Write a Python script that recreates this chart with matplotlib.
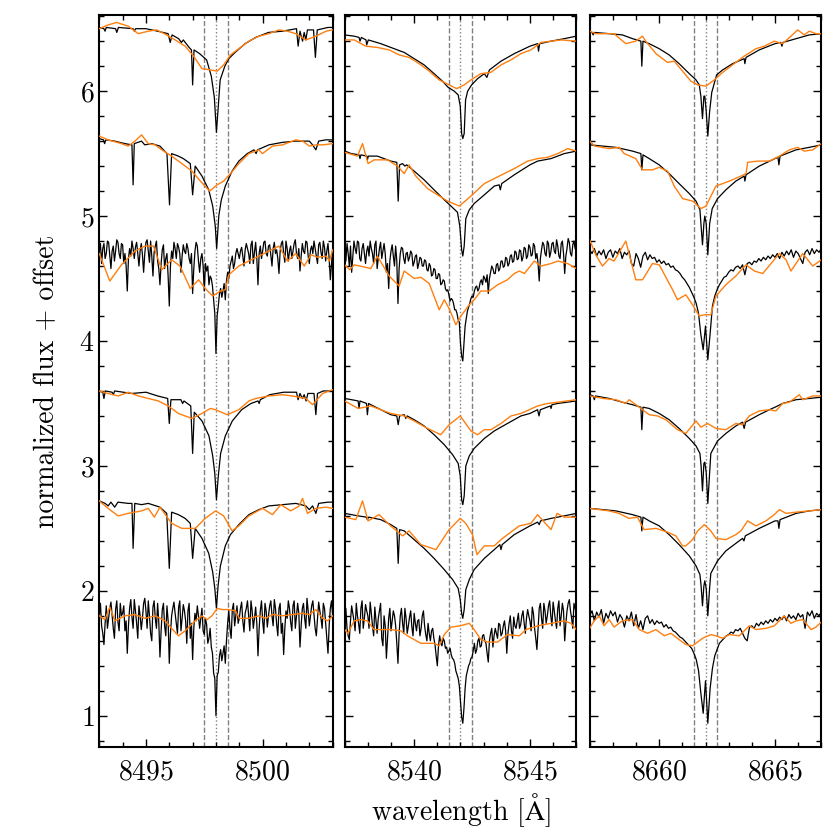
import numpy as np
import matplotlib
matplotlib.use('Agg')
import matplotlib.pyplot as plt
from matplotlib.ticker import MultipleLocator

plt.rcParams['font.family'] = 'serif'
plt.rcParams['font.serif'] = ['cmr10']
plt.rcParams['mathtext.fontset'] = 'cm'
plt.rcParams['axes.formatter.use_mathtext'] = True
plt.rcParams['font.size'] = 20

# line centres of the three Ca II triplet windows (window = centre +- 5 A)
centres = [8498, 8542, 8662]

# ---------------- Ca II 8498 -----------------
l5_model = [(8493.00, 6.51), (8493.20, 6.50), (8493.25, 6.48), (8493.30, 6.51), (8493.70, 6.50), (8493.75, 6.47),
            (8493.82, 6.51), (8494.45, 6.50), (8494.50, 6.48), (8494.56, 6.50), (8495.00, 6.50), (8495.50, 6.48),
            (8495.95, 6.46), (8496.04, 6.39), (8496.12, 6.45), (8496.40, 6.42), (8496.52, 6.39), (8496.60, 6.41),
            (8496.85, 6.35), (8496.95, 6.33), (8497.00, 6.05), (8497.06, 6.33), (8497.30, 6.30), (8497.60, 6.25),
            (8497.80, 6.12), (8497.93, 5.95), (8498.02, 5.67), (8498.10, 5.88), (8498.18, 6.09), (8498.38, 6.20),
            (8498.55, 6.26), (8498.82, 6.31), (8499.25, 6.38), (8499.70, 6.43), (8500.25, 6.47), (8500.85, 6.48),
            (8501.45, 6.50), (8501.52, 6.36), (8501.60, 6.48), (8501.71, 6.40), (8501.78, 6.47), (8501.85, 6.41),
            (8501.92, 6.49), (8502.18, 6.49), (8502.26, 6.27), (8502.34, 6.49), (8502.80, 6.51), (8503.00, 6.51)]
l5_obs = [(8493.00, 6.50), (8493.38, 6.53), (8493.74, 6.55), (8494.24, 6.52), (8494.67, 6.46), (8495.10, 6.48),
          (8495.46, 6.49), (8495.89, 6.45), (8496.25, 6.41), (8496.68, 6.36), (8497.04, 6.28), (8497.40, 6.18),
          (8497.76, 6.17), (8498.05, 6.16), (8498.33, 6.21), (8498.62, 6.29), (8498.98, 6.34), (8499.41, 6.40),
          (8499.84, 6.44), (8500.27, 6.46), (8500.70, 6.49), (8501.06, 6.48), (8501.42, 6.46), (8501.85, 6.41),
          (8502.28, 6.44), (8502.72, 6.48), (8503.00, 6.49)]
l4_model = [(8493.00, 5.62), (8493.18, 5.61), (8493.23, 5.58), (8493.28, 5.61), (8493.66, 5.60), (8494.10, 5.58),
            (8494.40, 5.57), (8494.45, 5.25), (8494.50, 5.58), (8494.81, 5.60), (8494.95, 5.57), (8495.25, 5.58),
            (8495.60, 5.56), (8495.90, 5.50), (8496.01, 5.09), (8496.10, 5.50), (8496.39, 5.48), (8496.60, 5.46),
            (8496.90, 5.42), (8497.00, 5.17), (8497.11, 5.40), (8497.40, 5.32), (8497.69, 5.21), (8497.86, 5.08),
            (8497.97, 4.92), (8498.03, 4.74), (8498.12, 5.00), (8498.23, 5.13), (8498.40, 5.24), (8498.69, 5.36),
            (8498.98, 5.44), (8499.34, 5.50), (8499.63, 5.53), (8499.72, 5.50), (8499.78, 5.53), (8500.27, 5.57),
            (8500.85, 5.59), (8501.42, 5.60), (8502.00, 5.60), (8502.14, 5.57), (8502.28, 5.53), (8502.40, 5.60),
            (8502.70, 5.61), (8503.00, 5.61)]
l4_obs = [(8493.00, 5.64), (8493.38, 5.61), (8493.95, 5.58), (8494.24, 5.56), (8494.53, 5.60), (8494.81, 5.65),
          (8495.10, 5.58), (8495.39, 5.57), (8495.68, 5.53), (8496.10, 5.48), (8496.54, 5.42), (8496.97, 5.36),
          (8497.33, 5.28), (8497.73, 5.20), (8498.05, 5.25), (8498.33, 5.28), (8498.62, 5.34), (8498.98, 5.42),
          (8499.41, 5.50), (8499.84, 5.53), (8499.99, 5.50), (8500.42, 5.56), (8500.85, 5.57), (8501.42, 5.61),
          (8501.71, 5.60), (8502.00, 5.56), (8502.28, 5.57), (8502.57, 5.57), (8503.00, 5.58)]
# noisy spectra: flux only, sampled evenly across the 10 A window
l3_model = [4.72, 4.78, 4.62, 4.74, 4.78, 4.66, 4.70, 4.80, 4.79, 4.68,
            4.58, 4.72, 4.76, 4.64, 4.72, 4.81, 4.79, 4.70, 4.66, 4.78,
            4.77, 4.62, 4.70, 4.60, 4.40, 4.66, 4.74, 4.68, 4.80, 4.74,
            4.66, 4.75, 4.79, 4.70, 4.60, 4.72, 4.78, 4.69, 4.55, 4.70,
            4.79, 4.81, 4.72, 4.63, 4.80, 4.68, 4.52, 4.71, 4.76, 4.80,
            4.64, 4.58, 4.45, 4.62, 4.73, 4.77, 4.58, 4.66, 4.70, 4.52,
            4.28, 4.60, 4.72, 4.66, 4.79, 4.74, 4.66, 4.78, 4.75, 4.70,
            4.55, 4.68, 4.77, 4.72, 4.70, 4.78, 4.74, 4.66, 4.62, 4.70,
            4.38, 4.58, 4.72, 4.79, 4.76, 4.64, 4.55, 4.66, 4.70, 4.60,
            4.40, 4.62, 4.56, 4.60, 4.45, 4.52, 4.50, 4.44, 4.33, 4.22,
            3.90, 4.20, 4.28, 4.38, 4.42, 4.35, 4.40, 4.46, 4.33, 4.48,
            4.55, 4.50, 4.60, 4.64, 4.68, 4.58, 4.62, 4.70, 4.74, 4.70,
            4.66, 4.72, 4.75, 4.68, 4.60, 4.73, 4.78, 4.74, 4.70, 4.62,
            4.77, 4.80, 4.62, 4.71, 4.79, 4.66, 4.45, 4.70, 4.76, 4.66,
            4.72, 4.79, 4.80, 4.70, 4.68, 4.76, 4.77, 4.69, 4.60, 4.74,
            4.79, 4.70, 4.73, 4.66, 4.54, 4.72, 4.78, 4.80, 4.70, 4.63,
            4.80, 4.74, 4.64, 4.72, 4.76, 4.66, 4.72, 4.78, 4.81, 4.70,
            4.66, 4.74, 4.56, 4.68, 4.78, 4.72, 4.70, 4.80, 4.79, 4.68,
            4.62, 4.73, 4.76, 4.70, 4.80, 4.74, 4.68, 4.62, 4.77, 4.79,
            4.71, 4.66, 4.80, 4.75, 4.64, 4.72, 4.78, 4.66, 4.49, 4.62,
            4.74]
l3_obs = [(8493.00, 4.70), (8493.45, 4.48), (8493.95, 4.61), (8494.53, 4.72), (8494.96, 4.76), (8495.32, 4.76),
          (8495.68, 4.57), (8496.10, 4.65), (8496.46, 4.60), (8496.90, 4.42), (8497.26, 4.49), (8497.54, 4.42),
          (8497.86, 4.36), (8498.19, 4.40), (8498.40, 4.41), (8498.55, 4.53), (8498.98, 4.60), (8499.41, 4.64),
          (8499.84, 4.68), (8500.27, 4.72), (8500.70, 4.76), (8501.06, 4.64), (8501.42, 4.70), (8501.78, 4.60),
          (8502.07, 4.69), (8502.36, 4.67), (8502.72, 4.68), (8502.86, 4.64), (8503.00, 4.73)]
l2_model = [(8493.00, 3.60), (8493.15, 3.59), (8493.20, 3.54), (8493.26, 3.60), (8493.55, 3.59), (8493.60, 3.57),
            (8493.66, 3.60), (8494.40, 3.58), (8495.00, 3.59), (8495.50, 3.56), (8495.93, 3.54), (8496.00, 3.34),
            (8496.07, 3.53), (8496.50, 3.53), (8496.57, 3.50), (8496.63, 3.52), (8496.92, 3.48), (8497.00, 3.10),
            (8497.07, 3.43), (8497.40, 3.36), (8497.70, 3.24), (8497.86, 3.08), (8497.95, 2.94), (8498.02, 2.73),
            (8498.10, 2.92), (8498.20, 3.10), (8498.40, 3.24), (8498.70, 3.36), (8499.10, 3.45), (8499.50, 3.50),
            (8499.80, 3.52), (8499.85, 3.50), (8499.90, 3.53), (8500.30, 3.57), (8500.90, 3.59), (8501.45, 3.59),
            (8501.52, 3.53), (8501.60, 3.58), (8501.70, 3.54), (8501.78, 3.57), (8501.86, 3.52), (8501.94, 3.58),
            (8502.20, 3.58), (8502.28, 3.41), (8502.35, 3.58), (8502.60, 3.60), (8503.00, 3.60)]
l2_obs = [(8493.00, 3.60), (8493.38, 3.58), (8493.81, 3.56), (8494.24, 3.59), (8494.67, 3.56), (8495.10, 3.54),
          (8495.53, 3.52), (8495.96, 3.48), (8496.39, 3.42), (8496.97, 3.38), (8497.40, 3.42), (8497.76, 3.46),
          (8497.98, 3.45), (8498.48, 3.41), (8498.98, 3.45), (8499.41, 3.52), (8499.70, 3.54), (8500.27, 3.56),
          (8500.85, 3.57), (8501.27, 3.56), (8501.85, 3.54), (8502.14, 3.49), (8502.57, 3.58), (8503.00, 3.61)]
l1_model = [(8493.00, 2.72), (8493.25, 2.70), (8493.38, 2.68), (8493.50, 2.71), (8493.66, 2.67), (8493.80, 2.71),
            (8494.24, 2.70), (8494.40, 2.70), (8494.45, 2.34), (8494.52, 2.70), (8494.81, 2.69), (8495.10, 2.70),
            (8495.60, 2.67), (8495.89, 2.62), (8496.00, 2.18), (8496.10, 2.63), (8496.39, 2.61), (8496.68, 2.58),
            (8496.90, 2.54), (8497.00, 2.26), (8497.11, 2.50), (8497.40, 2.42), (8497.69, 2.30), (8497.86, 2.15),
            (8497.95, 2.02), (8498.02, 1.86), (8498.09, 2.04), (8498.19, 2.20), (8498.40, 2.36), (8498.62, 2.45),
            (8498.98, 2.53), (8499.41, 2.61), (8499.84, 2.65), (8500.27, 2.68), (8500.85, 2.69), (8501.42, 2.70),
            (8501.85, 2.68), (8502.00, 2.65), (8502.14, 2.68), (8502.28, 2.62), (8502.40, 2.70), (8502.80, 2.71),
            (8503.00, 2.71)]
l1_obs = [(8493.00, 2.72), (8493.38, 2.66), (8493.81, 2.60), (8494.24, 2.62), (8494.81, 2.64), (8495.10, 2.66),
          (8495.36, 2.59), (8495.60, 2.67), (8496.10, 2.54), (8496.54, 2.50), (8497.11, 2.50), (8497.54, 2.58),
          (8497.98, 2.64), (8498.33, 2.60), (8498.69, 2.48), (8498.98, 2.52), (8499.41, 2.60), (8499.99, 2.66),
          (8500.42, 2.61), (8500.78, 2.69), (8501.20, 2.64), (8501.57, 2.68), (8501.71, 2.74), (8501.92, 2.62),
          (8502.28, 2.66), (8502.72, 2.67), (8503.00, 2.66)]
l0_model = [1.80, 1.90, 1.72, 1.66, 1.57, 1.74, 1.88, 1.70, 1.78, 1.86,
            1.91, 1.80, 1.70, 1.62, 1.85, 1.92, 1.75, 1.68, 1.90, 1.80,
            1.82, 1.88, 1.68, 1.76, 1.50, 1.72, 1.86, 1.93, 1.79, 1.70,
            1.93, 1.84, 1.74, 1.62, 1.88, 1.80, 1.69, 1.78, 1.90, 1.94,
            1.84, 1.70, 1.92, 1.80, 1.66, 1.60, 1.87, 1.92, 1.78, 1.70,
            1.90, 1.75, 1.47, 1.68, 1.85, 1.90, 1.72, 1.64, 1.88, 1.76,
            1.42, 1.66, 1.80, 1.86, 1.91, 1.82, 1.74, 1.66, 1.87, 1.92,
            1.68, 1.78, 1.89, 1.84, 1.76, 1.58, 1.84, 1.90, 1.62, 1.74,
            1.45, 1.70, 1.82, 1.76, 1.88, 1.80, 1.70, 1.78, 1.86, 1.68,
            1.65, 1.78, 1.73, 1.58, 1.62, 1.70, 1.55, 1.50, 1.34, 1.30,
            1.00, 1.32, 1.35, 1.48, 1.53, 1.44, 1.50, 1.56, 1.42, 1.60,
            1.74, 1.84, 1.70, 1.62, 1.85, 1.90, 1.72, 1.80, 1.88, 1.74,
            1.78, 1.86, 1.91, 1.76, 1.67, 1.82, 1.86, 1.92, 1.80, 1.68,
            1.92, 1.84, 1.70, 1.78, 1.87, 1.74, 1.48, 1.70, 1.84, 1.92,
            1.76, 1.66, 1.90, 1.84, 1.71, 1.80, 1.88, 1.92, 1.80, 1.72,
            1.93, 1.86, 1.73, 1.64, 1.86, 1.90, 1.66, 1.74, 1.49, 1.70,
            1.84, 1.78, 1.92, 1.86, 1.75, 1.68, 1.88, 1.92, 1.70, 1.80,
            1.90, 1.82, 1.55, 1.72, 1.86, 1.90, 1.78, 1.70, 1.94, 1.84,
            1.72, 1.80, 1.88, 1.92, 1.81, 1.70, 1.64, 1.78, 1.91, 1.84,
            1.78, 1.70, 1.90, 1.86, 1.74, 1.62, 1.50, 1.72, 1.86, 1.92,
            1.80]
l0_obs = [(8493.00, 1.80), (8493.24, 1.77), (8493.45, 1.87), (8493.67, 1.76), (8494.10, 1.80), (8494.53, 1.81),
          (8494.96, 1.78), (8495.39, 1.80), (8495.82, 1.76), (8496.10, 1.70), (8496.39, 1.64), (8496.68, 1.68),
          (8497.11, 1.76), (8497.40, 1.80), (8497.62, 1.77), (8497.83, 1.80), (8498.05, 1.86), (8498.26, 1.85),
          (8498.52, 1.85), (8498.84, 1.84), (8499.00, 1.78), (8499.41, 1.78), (8499.84, 1.80), (8500.13, 1.78),
          (8500.42, 1.81), (8500.85, 1.80), (8501.27, 1.81), (8501.71, 1.82), (8502.00, 1.81), (8502.28, 1.85),
          (8502.57, 1.78), (8502.79, 1.76), (8503.00, 1.80)]

# ---------------- Ca II 8542 -----------------
m5_model = [(8537.00, 6.45), (8537.41, 6.44), (8537.62, 6.43), (8537.66, 6.40), (8537.72, 6.43), (8537.92, 6.41),
            (8537.95, 6.37), (8538.02, 6.41), (8538.56, 6.38), (8538.99, 6.35), (8539.42, 6.32), (8539.57, 6.31),
            (8540.00, 6.26), (8540.43, 6.21), (8540.86, 6.14), (8541.22, 6.08), (8541.47, 6.03), (8541.73, 6.00),
            (8541.90, 5.97), (8541.99, 5.88), (8542.05, 5.66), (8542.10, 5.62), (8542.16, 5.66), (8542.22, 5.93),
            (8542.31, 6.00), (8542.48, 6.05), (8542.74, 6.10), (8543.03, 6.14), (8543.14, 6.11), (8543.25, 6.17),
            (8543.75, 6.24), (8544.32, 6.30), (8545.00, 6.36), (8545.33, 6.38), (8545.37, 6.32), (8545.42, 6.38),
            (8545.91, 6.40), (8546.48, 6.42), (8547.00, 6.44)]
m5_obs = [(8537.00, 6.41), (8537.41, 6.41), (8537.91, 6.36), (8538.41, 6.35), (8538.92, 6.33), (8539.35, 6.29),
          (8539.78, 6.27), (8540.22, 6.22), (8540.65, 6.16), (8541.08, 6.09), (8541.51, 6.05), (8541.84, 6.02),
          (8542.16, 6.05), (8542.45, 6.09), (8542.88, 6.14), (8543.31, 6.15), (8543.75, 6.21), (8544.18, 6.25),
          (8544.61, 6.30), (8545.04, 6.33), (8545.48, 6.39), (8545.91, 6.40), (8546.35, 6.41), (8547.00, 6.40)]
m4_model = [(8537.00, 5.52), (8537.29, 5.50), (8537.62, 5.49), (8537.66, 5.46), (8537.70, 5.49), (8537.95, 5.48),
            (8537.98, 5.45), (8538.02, 5.48), (8538.41, 5.48), (8538.99, 5.44), (8539.25, 5.43), (8539.31, 5.12),
            (8539.37, 5.41), (8539.50, 5.42), (8539.60, 5.40), (8539.68, 5.41), (8540.00, 5.36), (8540.43, 5.29),
            (8540.86, 5.21), (8541.30, 5.13), (8541.59, 5.08), (8541.87, 5.03), (8541.97, 4.92), (8542.05, 4.73),
            (8542.10, 4.68), (8542.16, 4.76), (8542.23, 4.98), (8542.38, 5.05), (8542.59, 5.10), (8543.03, 5.17),
            (8543.46, 5.24), (8543.67, 5.25), (8543.72, 5.21), (8543.78, 5.26), (8544.32, 5.33), (8545.00, 5.41),
            (8545.33, 5.44), (8545.91, 5.46), (8546.48, 5.50), (8547.00, 5.52)]
m4_obs = [(8537.00, 5.51), (8537.19, 5.50), (8537.55, 5.48), (8537.77, 5.58), (8538.01, 5.42), (8538.27, 5.45),
          (8538.85, 5.45), (8539.28, 5.40), (8539.57, 5.34), (8539.78, 5.41), (8540.07, 5.32), (8540.58, 5.22),
          (8541.01, 5.17), (8541.44, 5.12), (8541.95, 5.08), (8542.45, 5.16), (8543.03, 5.26), (8543.46, 5.30),
          (8543.89, 5.34), (8544.32, 5.38), (8544.90, 5.44), (8545.33, 5.46), (8545.76, 5.47), (8546.20, 5.50),
          (8546.63, 5.54), (8547.00, 5.52)]
m3_model = [4.72, 4.64, 4.78, 4.70, 4.60, 4.76, 4.55, 4.68, 4.80, 4.74,
            4.70, 4.80, 4.79, 4.66, 4.64, 4.74, 4.78, 4.70, 4.62, 4.72,
            4.76, 4.68, 4.80, 4.74, 4.70, 4.62, 4.77, 4.80, 4.58, 4.66,
            4.74, 4.79, 4.66, 4.72, 4.78, 4.70, 4.55, 4.62, 4.42, 4.64,
            4.72, 4.77, 4.68, 4.60, 4.76, 4.64, 4.30, 4.58, 4.70, 4.75,
            4.74, 4.66, 4.62, 4.70, 4.71, 4.64, 4.67, 4.72, 4.70, 4.60,
            4.63, 4.68, 4.69, 4.58, 4.62, 4.67, 4.66, 4.60, 4.60, 4.65,
            4.64, 4.57, 4.56, 4.62, 4.60, 4.52, 4.53, 4.58, 4.57, 4.50,
            4.50, 4.54, 4.53, 4.45, 4.46, 4.49, 4.48, 4.42, 4.40, 4.41,
            4.37, 4.32, 4.34, 4.33, 4.30, 4.25, 4.25, 4.22, 4.17, 4.15,
            3.98, 3.88, 3.84, 3.98, 4.12, 4.18, 4.24, 4.27, 4.30, 4.34,
            4.36, 4.35, 4.40, 4.43, 4.44, 4.40, 4.42, 4.47, 4.49, 4.45,
            4.52, 4.50, 4.47, 4.53, 4.38, 4.50, 4.55, 4.60, 4.58, 4.54,
            4.54, 4.61, 4.62, 4.56, 4.58, 4.64, 4.64, 4.59, 4.60, 4.67,
            4.66, 4.60, 4.62, 4.68, 4.69, 4.63, 4.64, 4.72, 4.71, 4.65,
            4.66, 4.73, 4.72, 4.64, 4.67, 4.75, 4.74, 4.66, 4.68, 4.77,
            4.75, 4.68, 4.69, 4.78, 4.76, 4.66, 4.70, 4.62, 4.48, 4.66,
            4.73, 4.79, 4.77, 4.70, 4.68, 4.80, 4.78, 4.67, 4.71, 4.78,
            4.79, 4.72, 4.70, 4.81, 4.76, 4.68, 4.66, 4.78, 4.80, 4.70,
            4.54, 4.68, 4.74, 4.82, 4.79, 4.70, 4.68, 4.77, 4.80, 4.74,
            4.72]
m3_obs = [(8537.00, 4.61), (8537.22, 4.57), (8537.41, 4.61), (8538.13, 4.58), (8538.41, 4.68), (8538.92, 4.52),
          (8539.35, 4.44), (8539.57, 4.56), (8540.00, 4.50), (8540.29, 4.51), (8540.65, 4.46), (8541.08, 4.25),
          (8541.30, 4.33), (8541.51, 4.26), (8541.80, 4.13), (8542.02, 4.20), (8542.38, 4.29), (8542.59, 4.33),
          (8542.88, 4.40), (8543.24, 4.40), (8543.60, 4.45), (8544.03, 4.49), (8544.32, 4.54), (8544.54, 4.56),
          (8544.76, 4.54), (8545.19, 4.64), (8545.48, 4.60), (8545.91, 4.62), (8546.20, 4.64), (8546.63, 4.62),
          (8547.00, 4.58)]
m2_model = [(8537.00, 3.54), (8537.30, 3.53), (8537.58, 3.52), (8537.62, 3.46), (8537.66, 3.52), (8537.94, 3.50),
            (8537.98, 3.41), (8538.03, 3.50), (8538.13, 3.49), (8538.56, 3.45), (8538.99, 3.41), (8539.25, 3.40),
            (8539.31, 3.33), (8539.37, 3.40), (8539.57, 3.41), (8539.64, 3.38), (8539.70, 3.40), (8540.00, 3.37),
            (8540.43, 3.32), (8540.86, 3.25), (8541.30, 3.17), (8541.66, 3.09), (8541.90, 3.02), (8541.99, 2.92),
            (8542.05, 2.73), (8542.10, 2.69), (8542.16, 2.76), (8542.23, 3.00), (8542.38, 3.08), (8542.59, 3.14),
            (8543.03, 3.22), (8543.46, 3.28), (8544.03, 3.34), (8544.61, 3.40), (8545.00, 3.42), (8545.33, 3.45),
            (8545.39, 3.40), (8545.45, 3.45), (8545.88, 3.48), (8545.91, 3.46), (8545.95, 3.49), (8546.20, 3.50),
            (8547.00, 3.52)]
m2_obs = [(8537.00, 3.52), (8537.58, 3.46), (8538.13, 3.48), (8538.99, 3.42), (8539.57, 3.40), (8540.00, 3.36),
          (8540.58, 3.30), (8541.15, 3.25), (8541.51, 3.33), (8541.99, 3.40), (8542.45, 3.28), (8542.74, 3.25),
          (8543.03, 3.29), (8543.31, 3.29), (8543.75, 3.34), (8544.18, 3.40), (8544.61, 3.42), (8544.97, 3.45),
          (8545.33, 3.48), (8545.76, 3.50), (8546.20, 3.51), (8547.00, 3.53)]
m1_model = [(8537.00, 2.62), (8537.29, 2.61), (8537.58, 2.60), (8537.94, 2.59), (8537.98, 2.57), (8538.03, 2.59),
            (8538.56, 2.57), (8538.99, 2.53), (8539.25, 2.50), (8539.31, 2.22), (8539.37, 2.49), (8539.57, 2.48),
            (8540.00, 2.41), (8540.43, 2.34), (8540.86, 2.26), (8541.30, 2.17), (8541.66, 2.09), (8541.90, 2.02),
            (8541.99, 1.93), (8542.05, 1.82), (8542.10, 1.78), (8542.16, 1.85), (8542.23, 2.01), (8542.38, 2.09),
            (8542.59, 2.17), (8543.03, 2.26), (8543.46, 2.33), (8543.70, 2.37), (8543.75, 2.33), (8543.80, 2.37),
            (8544.32, 2.45), (8545.00, 2.52), (8545.33, 2.55), (8545.40, 2.53), (8545.46, 2.56), (8545.91, 2.58),
            (8546.48, 2.60), (8547.00, 2.62)]
m1_obs = [(8537.00, 2.59), (8537.48, 2.57), (8537.77, 2.72), (8538.01, 2.56), (8538.49, 2.61), (8538.92, 2.53),
          (8539.50, 2.44), (8539.78, 2.48), (8540.29, 2.37), (8540.94, 2.33), (8541.51, 2.49), (8541.99, 2.58),
          (8542.23, 2.54), (8542.52, 2.45), (8542.71, 2.29), (8543.03, 2.36), (8543.46, 2.36), (8543.75, 2.41),
          (8544.03, 2.45), (8544.54, 2.52), (8545.04, 2.54), (8545.33, 2.61), (8545.91, 2.49), (8546.17, 2.62),
          (8546.48, 2.59), (8547.00, 2.59)]
m0_model = [1.78, 1.86, 1.70, 1.64, 1.61, 1.76, 1.88, 1.82, 1.76, 1.68,
            1.90, 1.80, 1.74, 1.66, 1.86, 1.92, 1.70, 1.78, 1.89, 1.84,
            1.80, 1.70, 1.91, 1.82, 1.72, 1.64, 1.87, 1.76, 1.66, 1.78,
            1.84, 1.90, 1.62, 1.56, 1.80, 1.72, 1.46, 1.62, 1.78, 1.86,
            1.68, 1.76, 1.84, 1.80, 1.72, 1.58, 1.42, 1.66, 1.80, 1.86,
            1.74, 1.66, 1.86, 1.78, 1.66, 1.72, 1.79, 1.84, 1.71, 1.64,
            1.82, 1.74, 1.68, 1.76, 1.77, 1.64, 1.70, 1.80, 1.84, 1.72,
            1.65, 1.60, 1.74, 1.66, 1.60, 1.68, 1.70, 1.62, 1.57, 1.48,
            1.40, 1.56, 1.64, 1.58, 1.56, 1.62, 1.60, 1.54, 1.55, 1.50,
            1.52, 1.54, 1.49, 1.46, 1.45, 1.42, 1.36, 1.33, 1.30, 1.24,
            1.12, 0.99, 0.94, 1.06, 1.22, 1.32, 1.36, 1.40, 1.42, 1.46,
            1.47, 1.52, 1.58, 1.50, 1.53, 1.60, 1.62, 1.55, 1.56, 1.64,
            1.65, 1.60, 1.58, 1.50, 1.43, 1.60, 1.66, 1.70, 1.55, 1.64,
            1.70, 1.66, 1.62, 1.74, 1.73, 1.64, 1.66, 1.72, 1.76, 1.68,
            1.50, 1.66, 1.74, 1.80, 1.68, 1.62, 1.79, 1.72, 1.70, 1.76,
            1.82, 1.70, 1.73, 1.80, 1.84, 1.74, 1.66, 1.78, 1.85, 1.80,
            1.76, 1.68, 1.87, 1.82, 1.70, 1.62, 1.53, 1.70, 1.86, 1.90,
            1.78, 1.70, 1.90, 1.84, 1.74, 1.80, 1.88, 1.92, 1.80, 1.72,
            1.91, 1.84, 1.76, 1.70, 1.86, 1.92, 1.72, 1.80, 1.90, 1.84,
            1.60, 1.74, 1.84, 1.90, 1.93, 1.84, 1.78, 1.70, 1.90, 1.86,
            1.82]
m0_obs = [(8537.00, 1.69), (8537.14, 1.66), (8537.41, 1.76), (8537.69, 1.77), (8537.98, 1.76), (8538.27, 1.69),
          (8538.56, 1.69), (8538.99, 1.69), (8539.42, 1.68), (8539.71, 1.64), (8540.29, 1.58), (8540.86, 1.58),
          (8541.08, 1.56), (8541.30, 1.65), (8541.59, 1.71), (8541.99, 1.72), (8542.38, 1.74), (8542.59, 1.69),
          (8542.88, 1.61), (8543.17, 1.59), (8543.60, 1.59), (8544.03, 1.65), (8544.54, 1.64), (8544.83, 1.69),
          (8545.33, 1.72), (8545.91, 1.74), (8546.48, 1.76), (8546.77, 1.74), (8547.00, 1.69)]

# ---------------- Ca II 8662 -----------------
r5_model = [(8657.00, 6.48), (8657.10, 6.47), (8657.15, 6.45), (8657.20, 6.47), (8657.84, 6.46), (8658.41, 6.45),
            (8658.85, 6.42), (8659.21, 6.40), (8659.25, 6.20), (8659.30, 6.40), (8659.57, 6.38), (8660.00, 6.34),
            (8660.43, 6.29), (8660.86, 6.22), (8661.30, 6.14), (8661.59, 6.09), (8661.73, 6.05), (8661.80, 5.96),
            (8661.87, 5.78), (8661.93, 5.96), (8661.97, 5.96), (8662.03, 5.84), (8662.10, 5.64), (8662.18, 5.84),
            (8662.27, 5.99), (8662.48, 6.13), (8662.74, 6.17), (8663.17, 6.22), (8663.67, 6.26), (8663.70, 6.22),
            (8663.75, 6.27), (8664.32, 6.33), (8665.00, 6.38), (8665.25, 6.39), (8665.30, 6.36), (8665.35, 6.39),
            (8665.91, 6.42), (8666.48, 6.45), (8667.00, 6.46)]
r5_obs = [(8657.00, 6.48), (8657.26, 6.46), (8658.05, 6.46), (8658.56, 6.38), (8658.99, 6.40), (8659.28, 6.44),
          (8659.42, 6.40), (8659.86, 6.30), (8660.36, 6.23), (8660.65, 6.24), (8661.01, 6.16), (8661.37, 6.08),
          (8661.66, 6.05), (8662.02, 6.04), (8662.38, 6.09), (8662.74, 6.15), (8663.24, 6.22), (8663.67, 6.28),
          (8664.18, 6.34), (8664.54, 6.36), (8664.97, 6.40), (8665.33, 6.38), (8665.69, 6.44), (8665.98, 6.49),
          (8666.27, 6.45), (8666.48, 6.48), (8666.77, 6.46), (8667.00, 6.46)]
r4_model = [(8657.00, 5.57), (8657.58, 5.56), (8658.13, 5.55), (8658.85, 5.52), (8659.21, 5.50), (8659.25, 5.37),
            (8659.30, 5.49), (8659.57, 5.46), (8660.00, 5.41), (8660.43, 5.34), (8660.86, 5.26), (8661.30, 5.18),
            (8661.59, 5.12), (8661.76, 5.05), (8661.81, 4.92), (8661.87, 4.77), (8661.93, 4.94), (8661.97, 5.00),
            (8662.03, 4.94), (8662.10, 4.69), (8662.18, 4.94), (8662.29, 5.06), (8662.52, 5.14), (8662.88, 5.21),
            (8663.31, 5.28), (8663.67, 5.32), (8663.70, 5.28), (8663.75, 5.33), (8664.32, 5.40), (8665.00, 5.46),
            (8665.13, 5.47), (8665.17, 5.41), (8665.22, 5.48), (8665.91, 5.53), (8666.48, 5.55), (8667.00, 5.57)]
r4_obs = [(8657.00, 5.60), (8657.22, 5.56), (8657.84, 5.54), (8658.27, 5.55), (8658.49, 5.50), (8658.99, 5.46),
          (8659.28, 5.37), (8659.71, 5.37), (8660.00, 5.39), (8660.36, 5.36), (8660.65, 5.24), (8661.01, 5.14),
          (8661.44, 5.12), (8661.80, 5.06), (8662.02, 5.08), (8662.45, 5.24), (8663.03, 5.28), (8663.53, 5.32),
          (8663.75, 5.34), (8663.82, 5.43), (8664.25, 5.44), (8664.76, 5.44), (8665.19, 5.48), (8665.62, 5.53),
          (8665.98, 5.55), (8666.27, 5.52), (8666.63, 5.53), (8667.00, 5.58)]
r3_model = [4.73, 4.70, 4.74, 4.68, 4.72, 4.69, 4.73, 4.66, 4.71, 4.73,
            4.67, 4.72, 4.70, 4.74, 4.66, 4.71, 4.69, 4.72, 4.62, 4.60,
            4.70, 4.66, 4.59, 4.68, 4.71, 4.65, 4.69, 4.66, 4.67, 4.63,
            4.65, 4.62, 4.64, 4.61, 4.62, 4.59, 4.60, 4.57, 4.56, 4.54,
            4.51, 4.49, 4.46, 4.43, 4.39, 4.35, 4.30, 4.22, 4.05, 3.93,
            4.12, 3.85, 4.06, 4.28, 4.36, 4.41, 4.45, 4.48, 4.51, 4.52,
            4.55, 4.57, 4.56, 4.59, 4.60, 4.58, 4.61, 4.53, 4.62, 4.63,
            4.61, 4.64, 4.63, 4.66, 4.64, 4.67, 4.65, 4.68, 4.66, 4.69,
            4.67, 4.70, 4.66, 4.71, 4.68, 4.72, 4.69, 4.73, 4.67, 4.72,
            4.70, 4.66, 4.62, 4.71, 4.73, 4.69, 4.74, 4.70, 4.73, 4.71, 4.74]
r3_obs = [(8657.00, 4.81), (8657.26, 4.69), (8657.55, 4.60), (8657.84, 4.66), (8658.05, 4.64), (8658.56, 4.80),
          (8658.99, 4.49), (8659.28, 4.49), (8659.71, 4.62), (8660.00, 4.61), (8660.58, 4.41), (8660.79, 4.33),
          (8661.15, 4.37), (8661.44, 4.29), (8661.73, 4.20), (8661.95, 4.21), (8662.23, 4.21), (8662.45, 4.36),
          (8662.88, 4.45), (8663.31, 4.52), (8663.75, 4.61), (8664.11, 4.56), (8664.47, 4.54), (8664.83, 4.62),
          (8665.19, 4.70), (8665.48, 4.65), (8665.69, 4.56), (8666.20, 4.70), (8666.63, 4.60), (8667.00, 4.65)]
r2_model = [(8657.00, 3.57), (8657.15, 3.56), (8657.20, 3.53), (8657.25, 3.56), (8657.84, 3.54), (8658.41, 3.51),
            (8658.85, 3.49), (8659.21, 3.47), (8659.25, 3.29), (8659.30, 3.47), (8659.57, 3.46), (8660.00, 3.42),
            (8660.43, 3.37), (8660.86, 3.30), (8661.30, 3.22), (8661.59, 3.16), (8661.76, 3.10), (8661.81, 3.00),
            (8661.87, 2.80), (8661.93, 3.02), (8661.97, 3.03), (8662.03, 2.95), (8662.10, 2.70), (8662.18, 2.95),
            (8662.23, 3.10), (8662.52, 3.20), (8662.88, 3.26), (8663.31, 3.32), (8663.60, 3.35), (8663.67, 3.30),
            (8663.73, 3.35), (8664.32, 3.41), (8664.76, 3.45), (8665.00, 3.47), (8665.33, 3.50), (8665.91, 3.53),
            (8666.48, 3.54), (8667.00, 3.55)]
r2_obs = [(8657.00, 3.56), (8657.58, 3.54), (8658.13, 3.53), (8658.56, 3.50), (8658.70, 3.53), (8659.21, 3.46),
          (8659.57, 3.41), (8659.93, 3.40), (8660.29, 3.37), (8660.79, 3.29), (8661.15, 3.26), (8661.59, 3.36),
          (8661.80, 3.31), (8662.09, 3.34), (8662.45, 3.30), (8662.88, 3.29), (8663.31, 3.34), (8663.60, 3.33),
          (8663.89, 3.40), (8664.32, 3.44), (8664.76, 3.45), (8665.04, 3.44), (8665.33, 3.50), (8665.62, 3.51),
          (8666.05, 3.57), (8666.20, 3.53), (8666.63, 3.56), (8667.00, 3.56)]
r1_model = [(8657.00, 2.66), (8657.58, 2.65), (8658.13, 2.64), (8658.85, 2.61), (8659.21, 2.59), (8659.25, 2.48),
            (8659.30, 2.59), (8659.57, 2.56), (8660.00, 2.52), (8660.43, 2.45), (8660.86, 2.37), (8661.30, 2.28),
            (8661.59, 2.20), (8661.76, 2.13), (8661.81, 2.04), (8661.87, 1.88), (8661.93, 2.04), (8661.97, 2.08),
            (8662.03, 2.02), (8662.10, 1.80), (8662.18, 2.03), (8662.23, 2.14), (8662.52, 2.24), (8662.88, 2.32),
            (8663.31, 2.38), (8663.60, 2.42), (8663.66, 2.40), (8663.72, 2.44), (8664.32, 2.50), (8665.00, 2.56),
            (8665.13, 2.56), (8665.17, 2.50), (8665.22, 2.57), (8665.91, 2.62), (8666.48, 2.64), (8667.00, 2.65)]
r1_obs = [(8657.00, 2.66), (8657.41, 2.65), (8657.84, 2.64), (8658.27, 2.62), (8658.70, 2.58), (8659.06, 2.59),
          (8659.35, 2.49), (8659.86, 2.50), (8660.36, 2.47), (8660.72, 2.44), (8661.01, 2.36), (8661.15, 2.36),
          (8661.44, 2.41), (8661.66, 2.48), (8661.95, 2.53), (8662.23, 2.48), (8662.45, 2.42), (8662.88, 2.41),
          (8663.31, 2.45), (8663.53, 2.48), (8663.82, 2.56), (8664.18, 2.52), (8664.61, 2.56), (8664.97, 2.61),
          (8665.19, 2.65), (8665.48, 2.62), (8665.91, 2.63), (8666.48, 2.64), (8667.00, 2.65)]
r0_model = [1.80, 1.84, 1.76, 1.83, 1.79, 1.85, 1.74, 1.82, 1.78, 1.84,
            1.80, 1.83, 1.75, 1.81, 1.78, 1.71, 1.80, 1.76, 1.83, 1.72,
            1.81, 1.70, 1.76, 1.69, 1.78, 1.80, 1.74, 1.77, 1.73, 1.76,
            1.74, 1.75, 1.71, 1.73, 1.70, 1.71, 1.68, 1.67, 1.65, 1.63,
            1.62, 1.60, 1.58, 1.56, 1.54, 1.50, 1.45, 1.36, 1.18, 1.02,
            1.28, 0.94, 1.22, 1.38, 1.48, 1.53, 1.58, 1.60, 1.62, 1.64,
            1.65, 1.67, 1.66, 1.69, 1.68, 1.70, 1.66, 1.62, 1.60, 1.71,
            1.72, 1.70, 1.74, 1.72, 1.75, 1.73, 1.76, 1.74, 1.77, 1.75,
            1.78, 1.76, 1.79, 1.77, 1.80, 1.76, 1.81, 1.78, 1.80, 1.77,
            1.82, 1.79, 1.81, 1.70, 1.83, 1.80, 1.84, 1.78, 1.82, 1.80, 1.83]
r0_obs = [(8657.00, 1.70), (8657.19, 1.76), (8657.41, 1.80), (8657.62, 1.72), (8657.84, 1.77), (8658.05, 1.71),
          (8658.41, 1.76), (8658.85, 1.77), (8659.14, 1.69), (8659.50, 1.66), (8659.86, 1.69), (8660.22, 1.64),
          (8660.50, 1.66), (8660.86, 1.61), (8661.15, 1.57), (8661.44, 1.56), (8661.87, 1.62), (8662.23, 1.65),
          (8662.45, 1.64), (8662.74, 1.62), (8663.03, 1.65), (8663.46, 1.64), (8663.89, 1.72), (8664.18, 1.69),
          (8664.61, 1.70), (8664.97, 1.72), (8665.40, 1.80), (8665.69, 1.74), (8665.91, 1.76), (8666.20, 1.77),
          (8666.56, 1.69), (8666.77, 1.71), (8667.00, 1.75)]

models = [[l0_model, l1_model, l2_model, l3_model, l4_model, l5_model],
          [m0_model, m1_model, m2_model, m3_model, m4_model, m5_model],
          [r0_model, r1_model, r2_model, r3_model, r4_model, r5_model]]
observed = [[l0_obs, l1_obs, l2_obs, l3_obs, l4_obs, l5_obs],
            [m0_obs, m1_obs, m2_obs, m3_obs, m4_obs, m5_obs],
            [r0_obs, r1_obs, r2_obs, r3_obs, r4_obs, r5_obs]]


def as_xy(series, centre):
    if np.ndim(series) == 1:
        # flux only, evenly sampled over the window
        fl = np.asarray(series)
        wl = np.linspace(centre - 5, centre + 5, len(fl))
        return wl, fl
    arr = np.asarray(series)
    return arr[:, 0], arr[:, 1]


fig = plt.figure(figsize=(8.3, 8.3), dpi=100)
lefts = [0.1196, 0.4153, 0.7105]
widths = [0.2812, 0.279, 0.279]
orange = '#ff7f0e'

for i, c in enumerate(centres):
    ax = fig.add_axes([lefts[i], 0.1, widths[i], 0.882])
    for mod, obs in zip(models[i], observed[i]):
        wl, fl = as_xy(mod, c)
        ax.plot(wl, fl, color='k', lw=0.9, zorder=2)
        wl, fl = as_xy(obs, c)
        ax.plot(wl, fl, color=orange, lw=1.0, zorder=3)
    ax.axvline(c - 0.5, color='gray', ls='--', lw=1.0, zorder=1)
    ax.axvline(c + 0.5, color='gray', ls='--', lw=1.0, zorder=1)
    ax.axvline(c, color='gray', ls=':', lw=1.0, zorder=1)
    ax.set_xlim(c - 5, c + 5)
    ax.set_ylim(0.75, 6.61)
    ax.xaxis.set_major_locator(MultipleLocator(5))
    ax.xaxis.set_minor_locator(MultipleLocator(1))
    ax.yaxis.set_major_locator(MultipleLocator(1))
    ax.yaxis.set_minor_locator(MultipleLocator(0.2))
    ax.tick_params(which='both', direction='in', top=True, right=True, width=1.0)
    ax.tick_params(which='major', length=6)
    ax.tick_params(which='minor', length=3.5)
    ax.tick_params(axis='x', pad=9)
    for s in ax.spines.values():
        s.set_linewidth(1.5)
    if i == 0:
        ax.set_ylabel('normalized flux + offset', labelpad=14)
    else:
        ax.set_yticklabels([])
    if i == 1:
        ax.set_xlabel(r'wavelength [$\mathrm{\AA}$]', labelpad=4)

fig.savefig('out.png', dpi=100)
